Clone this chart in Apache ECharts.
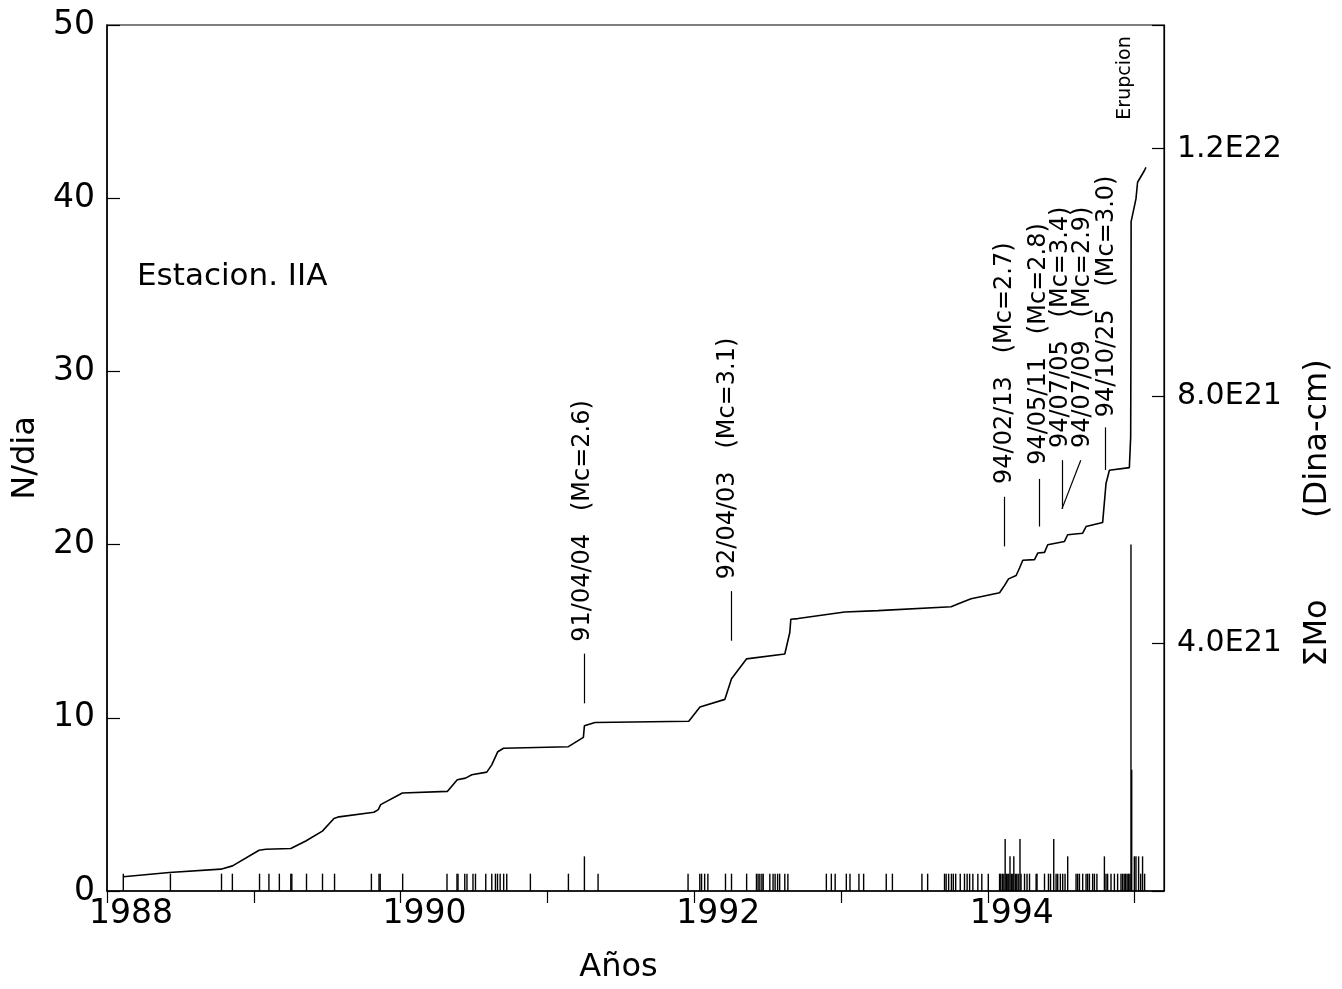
<!DOCTYPE html>
<html><head><meta charset="utf-8">
<script src="https://cdn.jsdelivr.net/npm/echarts@6/dist/echarts.min.js"></script>
<style>html,body{margin:0;padding:0;background:#fff}#c{width:1342px;height:989px}</style>
</head><body><div id="c"></div>
<script>
// ---- Data ----
// cumulative seismic moment curve (decimal year, value in units of 1E21 dina-cm)
const momentDates = [1988.111,1988.424,1988.776,1988.855,1989.036,1989.082,1989.252,1989.354,1989.467,1989.546,1989.580,1989.818,1989.848,1989.864,1990.012,1990.318,1990.386,1990.442,1990.485,1990.587,1990.621,1990.662,1990.701,1991.143,1991.245,1991.252,1991.324,1991.963,1992.039,1992.209,1992.254,1992.356,1992.617,1992.651,1992.658,1992.707,1993.025,1993.252,1993.750,1993.808,1993.886,1994.080,1994.114,1994.141,1994.193,1994.216,1994.238,1994.318,1994.340,1994.386,1994.408,1994.522,1994.544,1994.646,1994.669,1994.782,1994.805,1994.828,1994.964,1994.973,1994.975,1994.976,1995.009,1995.020,1995.066,1995.077];
const momentValues = [0.23,0.30,0.353,0.406,0.658,0.674,0.686,0.808,0.968,1.172,1.199,1.273,1.316,1.397,1.585,1.610,1.798,1.825,1.878,1.922,2.039,2.252,2.307,2.333,2.484,2.670,2.723,2.745,2.975,3.098,3.431,3.752,3.832,4.179,4.394,4.404,4.511,4.532,4.596,4.651,4.725,4.821,4.940,5.046,5.100,5.222,5.346,5.357,5.463,5.474,5.598,5.651,5.759,5.784,5.892,5.956,6.587,6.802,6.844,7.337,8.942,10.82,11.189,11.458,11.644,11.699];
// daily event counts N/dia (decimal year, count)
const barDates = [1988.111,1988.432,1988.780,1988.854,1989.039,1989.103,1989.174,1989.252,1989.259,1989.359,1989.468,1989.550,1989.801,1989.853,1989.861,1990.014,1990.316,1990.384,1990.391,1990.437,1990.452,1990.493,1990.510,1990.580,1990.621,1990.646,1990.660,1990.678,1990.702,1990.723,1990.884,1991.143,1991.252,1991.345,1991.958,1992.038,1992.050,1992.071,1992.093,1992.213,1992.254,1992.357,1992.424,1992.435,1992.447,1992.461,1992.470,1992.515,1992.537,1992.551,1992.568,1992.582,1992.617,1992.638,1992.900,1992.934,1992.960,1993.036,1993.061,1993.122,1993.154,1993.308,1993.350,1993.551,1993.590,1993.705,1993.716,1993.733,1993.752,1993.765,1993.781,1993.812,1993.841,1993.859,1993.876,1993.898,1993.932,1993.959,1994.003,1994.080,1994.088,1994.099,1994.109,1994.118,1994.126,1994.136,1994.143,1994.151,1994.160,1994.170,1994.177,1994.187,1994.197,1994.207,1994.219,1994.226,1994.250,1994.267,1994.284,1994.329,1994.335,1994.386,1994.413,1994.427,1994.449,1994.465,1994.476,1994.494,1994.510,1994.526,1994.544,1994.601,1994.612,1994.624,1994.646,1994.669,1994.680,1994.692,1994.714,1994.726,1994.743,1994.794,1994.805,1994.816,1994.839,1994.862,1994.884,1994.907,1994.918,1994.929,1994.939,1994.949,1994.959,1994.968,1994.975,1994.980,1994.998,1995.009,1995.027,1995.041,1995.054,1995.068];
const barCounts = [1,1,1,1,1,1,1,1,1,1,1,1,1,1,1,1,1,1,1,1,1,1,1,1,1,1,1,1,1,1,1,1,2,1,1,1,1,1,1,1,1,1,1,1,1,1,1,1,1,1,1,1,1,1,1,1,1,1,1,1,1,1,1,1,1,1,1,1,1,1,1,1,1,1,1,1,1,1,1,1,1,1,1,3,1,1,1,2,1,1,2,1,1,1,3,1,1,1,1,1,1,1,1,1,3,1,1,1,1,1,2,1,1,1,1,1,1,1,1,1,1,2,1,1,1,1,1,1,1,1,1,1,1,1,20,7,2,2,2,1,2,1];
// axis ticks
const xTicksLabelled = [1988,1990,1992,1994];
const rightTickLabels = {4:'4.0E21', 8:'8.0E21', 12:'1.2E22'};
// event annotations (text, date of text column, value (1E21) where text starts)
const annoTexts = ['91/04/04   (Mc=2.6)','92/04/03   (Mc=3.1)','94/02/13   (Mc=2.7)','94/05/11   (Mc=2.8)','94/07/05   (Mc=3.4)','94/07/09   (Mc=2.9)','94/10/25   (Mc=3.0)'];
const annoTextDates = [1991.238,1992.231,1994.114,1994.347,1994.497,1994.646,1994.810];
const annoTextValues = [4.03,5.04,6.58,6.89,7.16,7.16,7.66];
// leader segments: [date0, value0] -> [date1, value1]
const leaderStartDates = [1991.252,1992.254,1994.114,1994.352,1994.505,1994.505,1994.803];
const leaderStartValues = [3.034,4.046,5.571,5.892,6.178,6.178,6.805];
const leaderEndDates = [1991.252,1992.254,1994.114,1994.352,1994.505,1994.633,1994.803];
const leaderEndValues = [3.837,4.848,6.373,6.662,6.965,6.965,7.495];
const eruptionText = 'Erupcion';
const eruptionDate = 1994.935;
const eruptionValue = 12.47;
const stationText = 'Estacion. IIA';

// ---- Chart ----
const FF = "'DejaVu Sans', sans-serif";
const chart = echarts.init(document.getElementById('c'), null, {renderer:'canvas'});
const leaders = leaderStartDates.map((d,i)=>[{coord:[d, leaderStartValues[i]]},{coord:[leaderEndDates[i], leaderEndValues[i]]}]);

chart.setOption({
  animation:false,
  backgroundColor:'#fff',
  grid:{left:107, right:175, top:25, bottom:92, show:true, borderColor:'#000', borderWidth:1.2},
  xAxis:{
    type:'value', min:1988, max:1995.2, interval:1,
    axisLine:{show:true, lineStyle:{color:'#000', width:1.5}},
    axisTick:{show:true, inside:false, length:12, lineStyle:{color:'#000', width:1.2}},
    axisLabel:{color:'#000', fontSize:33, fontFamily:FF, margin:7, padding:[0,0,0,48], showMaxLabel:false,
      formatter:v=>{const r=Math.round(v); return (Math.abs(v-r)<1e-6 && xTicksLabelled.includes(r))? String(r):'';}},
    splitLine:{show:false},
    name:'Años', nameLocation:'middle', nameGap:61,
    nameTextStyle:{color:'#000', fontSize:32, fontFamily:FF, padding:[0,34,0,0]}
  },
  yAxis:[{
    type:'value', min:0, max:50, interval:10, position:'left',
    axisLine:{show:true, lineStyle:{color:'#000', width:1.5}},
    axisTick:{show:true, inside:true, length:13, lineStyle:{color:'#000', width:1.2}},
    axisLabel:{color:'#000', fontSize:33, fontFamily:FF, margin:12},
    splitLine:{show:false},
    name:'N/dia', nameLocation:'middle', nameRotate:90, nameGap:55,
    nameTextStyle:{color:'#000', fontSize:32, fontFamily:FF}
  },{
    type:'value', min:0, max:14, interval:4, position:'right',
    axisLine:{show:true, lineStyle:{color:'#000', width:1.2}},
    axisTick:{show:true, inside:true, length:12, lineStyle:{color:'#000', width:1.2}},
    axisLabel:{color:'#000', fontSize:30, fontFamily:FF, margin:13,
      formatter:v=>rightTickLabels[Math.round(v)] && Math.abs(v-Math.round(v))<1e-6 ? rightTickLabels[Math.round(v)] : ''},
    splitLine:{show:false},
    name:'ΣMo        (Dina-cm)', nameLocation:'middle', nameRotate:90, nameGap:138,
    nameTextStyle:{color:'#000', fontSize:32, fontFamily:FF, padding:[0,110,0,0]}
  }],
  series:[{
    name:'N/dia', type:'bar', xAxisIndex:0, yAxisIndex:0,
    data: barDates.map((d,i)=>[d, barCounts[i]]),
    barWidth:1.4, itemStyle:{color:'#000'}, silent:true, z:3
  },{
    name:'ΣMo', type:'line', xAxisIndex:0, yAxisIndex:1,
    data: momentDates.map((d,i)=>[d, momentValues[i]]),
    showSymbol:false, symbol:'none', silent:true,
    lineStyle:{color:'#000', width:1.6}, z:4,
    markLine:{silent:true, symbol:['none','none'], animation:false,
      lineStyle:{color:'#000', width:1.2, type:'solid'}, label:{show:false}, emphasis:{disabled:true},
      data: leaders}
  }]
});

function placeTexts(){
  const g = [];
  annoTexts.forEach((t,i)=>{
    const p = chart.convertToPixel({xAxisIndex:0, yAxisIndex:1}, [annoTextDates[i], annoTextValues[i]]);
    g.push({type:'text', x:p[0], y:p[1], rotation:Math.PI/2, silent:true,
      style:{text:t, fill:'#000', font:'24px '+FF, textAlign:'left', textVerticalAlign:'middle', align:'left', verticalAlign:'middle'}});
  });
  const pe = chart.convertToPixel({xAxisIndex:0, yAxisIndex:1}, [eruptionDate, eruptionValue]);
  g.push({type:'text', x:pe[0], y:pe[1], rotation:Math.PI/2, silent:true,
    style:{text:eruptionText, fill:'#000', font:'19px '+FF, textAlign:'left', textVerticalAlign:'middle', align:'left', verticalAlign:'middle'}});
  g.push({type:'text', left:137, top:261, silent:true,
    style:{text:stationText, fill:'#000', font:'31px '+FF}});
  chart.setOption({graphic:g});
}
placeTexts();
</script></body></html>
